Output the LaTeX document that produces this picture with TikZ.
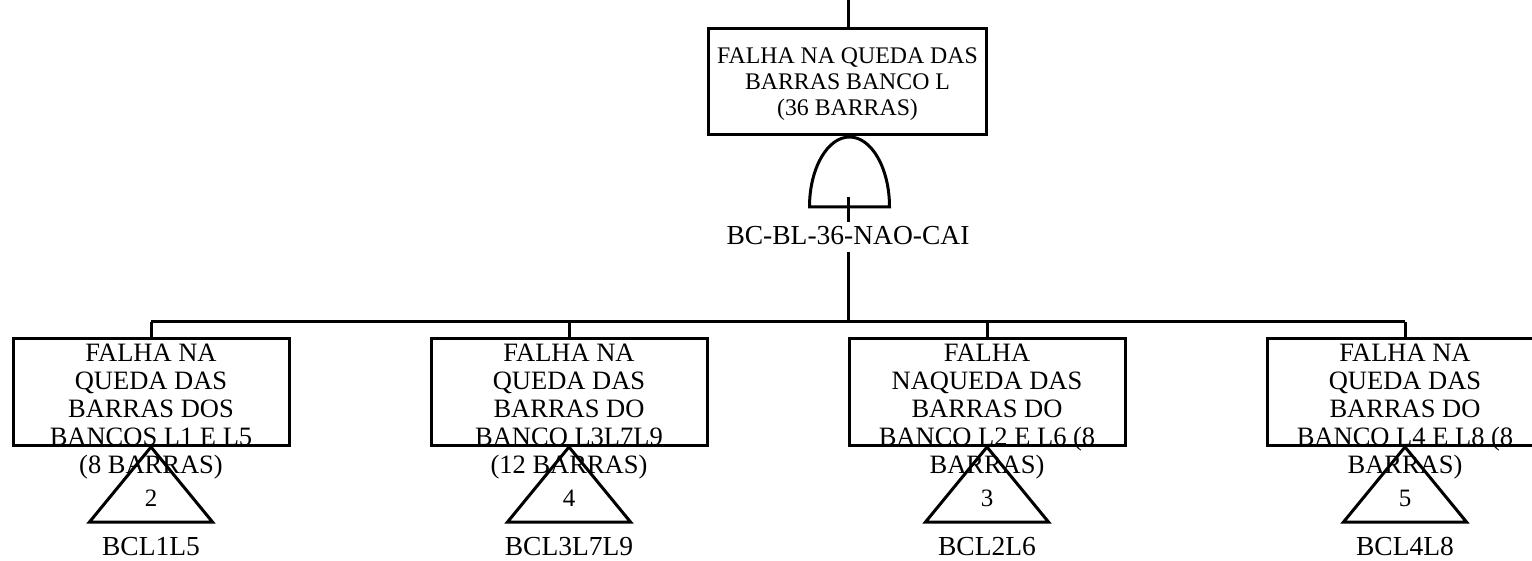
\documentclass[tikz,border=0pt]{standalone}
\usepackage{fontspec}
\setmainfont{Liberation Serif}
\begin{document}
\begin{tikzpicture}[x=1pt,y=-1pt,
  wire/.style={line width=3pt},
  evbox/.style={draw, line width=3pt, inner sep=0pt, minimum width=276pt, minimum height=107pt},
  toptext/.style={anchor=north, align=center, inner sep=0pt, font=\fontsize{23.8}{25.7}\selectfont},
  evtext/.style={anchor=north, align=center, inner sep=0pt, font=\fontsize{26.5}{28}\selectfont},
  tagtext/.style={anchor=base, inner sep=0pt, font=\fontsize{27.5}{30}\selectfont},
  numtext/.style={anchor=base, inner sep=0pt, font=\fontsize{25}{28}\selectfont}]
\clip (0,0) rectangle (1532,561);
\useasboundingbox (0,0) rectangle (1532,561);

% top event
\coordinate (topin) at (848,0);
\node[evbox, minimum width=278pt, minimum height=106pt] (top) at (847.5,81.5) {};
\node[toptext] (toptxt) at (847.5,48) {FALHA NA QUEDA DAS\\BARRAS BANCO L\\(36 BARRAS)};
\draw[wire] (topin) -- (top.north -| topin);

% AND gate
\draw[wire] (809.5,207) -- (889.5,207) arc[start angle=0, end angle=180, x radius=40pt, y radius=70pt] -- cycle;
\coordinate (gin) at (848,197);
\node[tagtext, inner sep=0pt] (gatelab) at (848,245) {BC-BL-36-NAO-CAI};
\coordinate (gtop) at (848,222);
\coordinate (gbot) at (848,252);
\draw[wire] (gin) -- (gtop);
\coordinate (bus) at (848,322);
\draw[wire] (gbot) -- (bus);

% horizontal bus
\coordinate (busL) at (151,322);
\coordinate (busR) at (1405,322);
\draw[wire] (busL) -- (busR);

% basic events (transferred)
\foreach \cx/\nm/\txt/\num/\tag in {
  151/e1/{FALHA NA\\QUEDA DAS\\BARRAS DOS\\BANCOS L1 E L5\\(8 BARRAS)}/2/BCL1L5,
  569/e2/{FALHA NA\\QUEDA DAS\\BARRAS DO\\BANCO L3L7L9\\(12 BARRAS)}/4/BCL3L7L9,
  987/e3/{FALHA\\NAQUEDA DAS\\BARRAS DO\\BANCO L2 E L6 (8\\BARRAS)}/3/BCL2L6,
  1405/e4/{FALHA NA\\QUEDA DAS\\BARRAS DO\\BANCO L4 E L8 (8\\BARRAS)}/5/BCL4L8}{
  \coordinate (\nm-bus) at (\cx,322);
  \node[evbox] (\nm) at (\cx,392) {};
  \draw[wire] (\nm-bus) -- (\nm.north);
  \node[evtext] (\nm-txt) at (\cx,344) {\txt};
  \coordinate (\nm-tl) at (\cx-61.5,522);
  \coordinate (\nm-tr) at (\cx+61.5,522);
  \draw[wire, line join=miter] (\nm.south) -- (\nm-tr) -- (\nm-tl) -- cycle;
  \node[numtext] (\nm-num) at (\cx,506) {\num};
  \node[tagtext] (\nm-tag) at (\cx,555) {\tag};
}
\end{tikzpicture}
\end{document}
